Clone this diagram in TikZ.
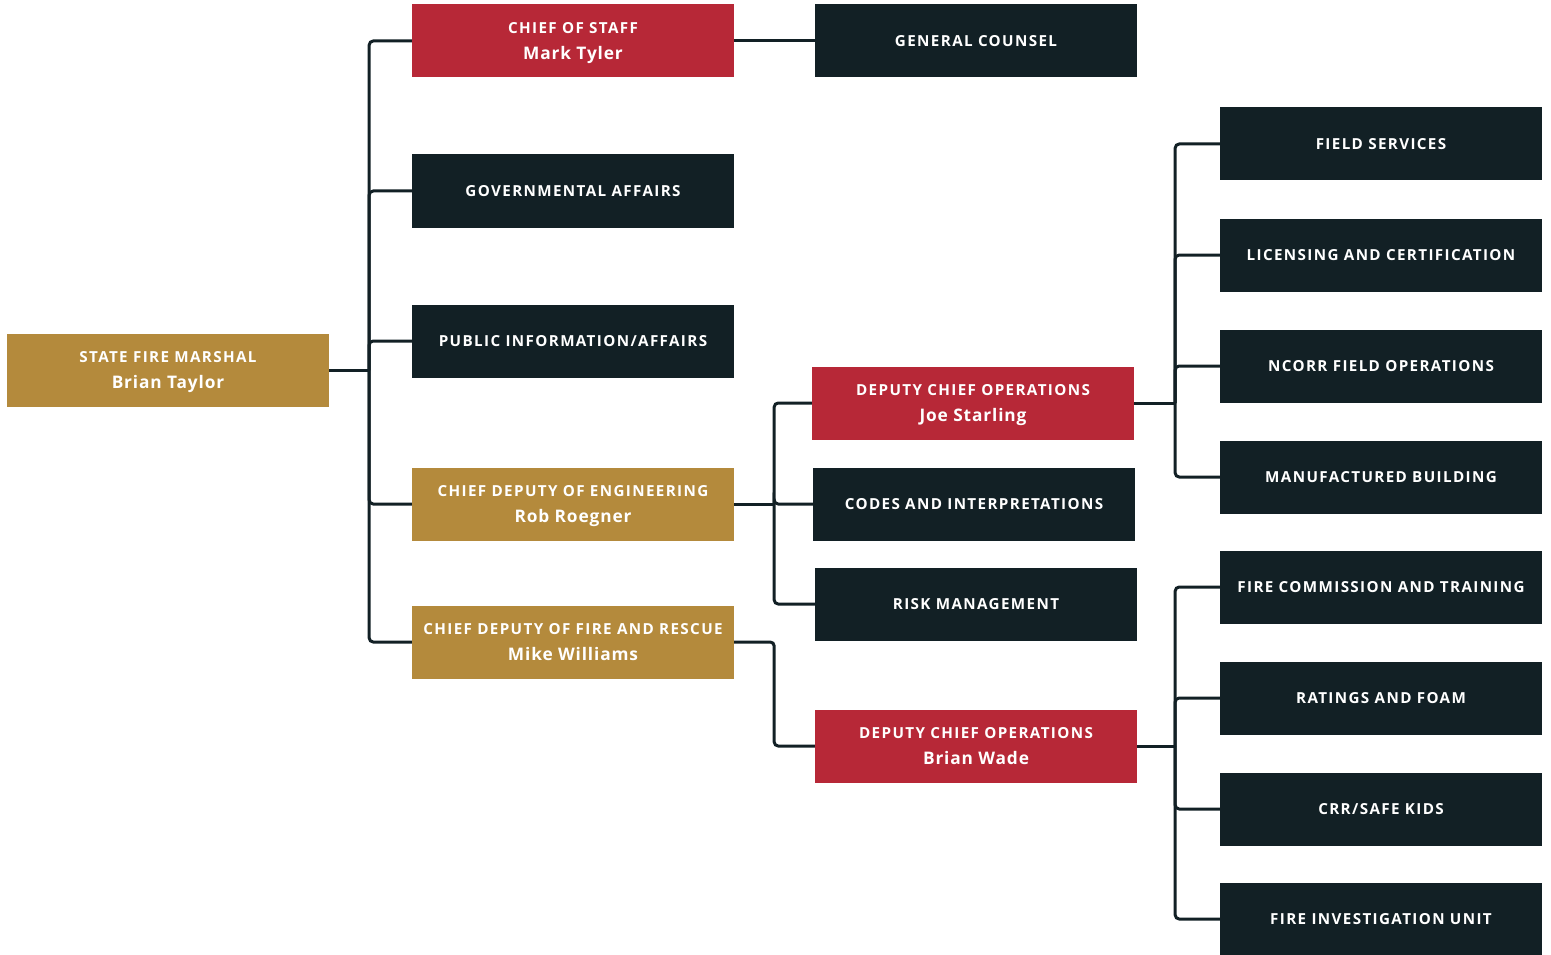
\documentclass[tikz,border=0pt]{standalone}
\usepackage{fontspec}
\newfontfamily\orgfont[LetterSpace=9]{Open Sans}
\newfontfamily\namefont[LetterSpace=5]{Open Sans}
\usetikzlibrary{positioning, calc}
\definecolor{cgold}{HTML}{B48A3C}
\definecolor{cred}{HTML}{B72837}
\definecolor{cnavy}{HTML}{122025}
\tikzset{
  every picture/.style={x=1pt, y=-1pt},
  unit/.style={fill=#1, text=white, minimum width=322pt, minimum height=73pt, inner sep=0pt, align=center, font=\orgfont\bfseries\fontsize{15.2}{26}\selectfont},
  unit/.default=cnavy,
  link/.style={draw=cnavy, line width=3pt, rounded corners=4pt},
}
\newcommand{\who}[1]{\smash{\namefont\bfseries\fontsize{17.3}{26}\selectfont #1}}

\begin{document}
\begin{tikzpicture}
  \useasboundingbox (0,0) rectangle (1551,955);
  % left side
  \node[unit=cgold] (sfm) at (168,370) {STATE FIRE MARSHAL\\\who{Brian Taylor}};
  \node[unit=cred] (cos) at (573,41) {CHIEF OF STAFF\\\who{Mark Tyler}};
  \node[unit] (gov) at (573,191) {GOVERNMENTAL AFFAIRS};
  \node[unit] (pub) at (573,341) {PUBLIC INFORMATION/AFFAIRS};
  \node[unit=cgold] (eng) at (573,504) {CHIEF DEPUTY OF ENGINEERING\\\who{Rob Roegner}};
  \node[unit=cgold] (fire) at (573,642) {CHIEF DEPUTY OF FIRE AND RESCUE\\\who{Mike Williams}};
  % middle column
  \node[unit] (gc) at (976,41) {GENERAL COUNSEL};
  \node[unit=cred] (dcoj) at (973,403) {DEPUTY CHIEF OPERATIONS\\\who{Joe Starling}};
  \node[unit] (codes) at (974,504) {CODES AND INTERPRETATIONS};
  \node[unit] (risk) at (976,604) {RISK MANAGEMENT};
  \node[unit=cred] (dcow) at (976,746) {DEPUTY CHIEF OPERATIONS\\\who{Brian Wade}};
  % right column
  \node[unit] (field) at (1381,144) {FIELD SERVICES};
  \node[unit] (lic) at (1381,255) {LICENSING AND CERTIFICATION};
  \node[unit] (ncorr) at (1381,366) {NCORR FIELD OPERATIONS};
  \node[unit] (mfg) at (1381,477) {MANUFACTURED BUILDING};
  \node[unit] (fct) at (1381,587) {FIRE COMMISSION AND TRAINING};
  \node[unit] (foam) at (1381,698) {RATINGS AND FOAM};
  \node[unit] (crr) at (1381,809) {CRR/SAFE KIDS};
  \node[unit] (fiu) at (1381,919) {FIRE INVESTIGATION UNIT};

  % connectors
  \draw[link] (sfm.east) -- ++(40,0) coordinate (busA);
  \foreach \n in {cos,gov,pub,eng,fire} \draw[link] (busA) |- (\n.west);
  \draw[link] (cos.east) -- (gc.west);
  \draw[link] (eng.east) -- ++(40,0) coordinate (busB);
  \foreach \n in {dcoj,codes,risk} \draw[link] (busB) |- (\n.west);
  \draw[link] (fire.east) -- ++(40,0) |- (dcow.west);
  \draw[link] (dcoj.east) -- ++(41,0) coordinate (busC);
  \foreach \n in {field,lic,ncorr,mfg} \draw[link] (busC) |- (\n.west);
  \draw[link] (dcow.east) -- ++(38,0) coordinate (busD);
  \foreach \n in {fct,foam,crr,fiu} \draw[link] (busD) |- (\n.west);
\end{tikzpicture}
\end{document}
